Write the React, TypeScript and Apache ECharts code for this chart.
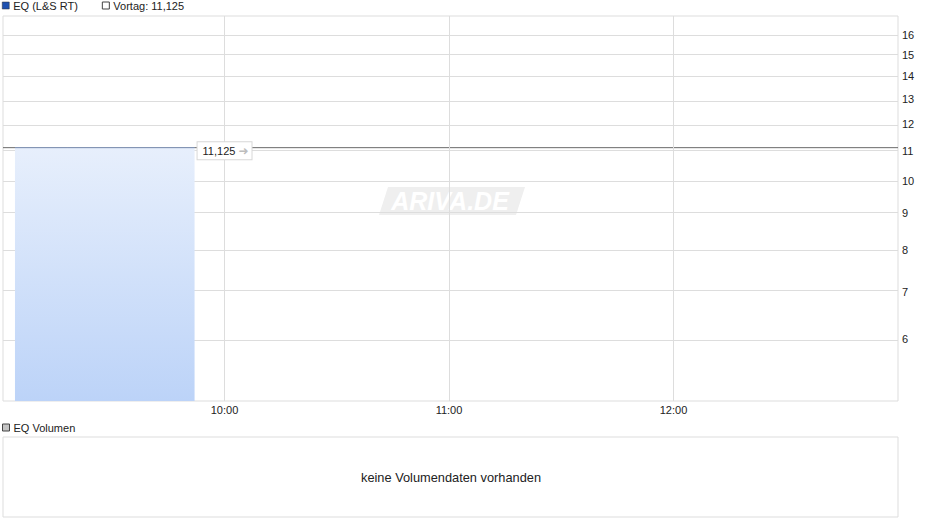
import React, { useEffect, useRef } from "react";
import * as echarts from "echarts";

// ---- data ----
const SERIES_NAME = "EQ (L&S RT)";
const PREV_NAME = "Vortag: 11,125";
const VOLUME_NAME = "EQ Volumen";
const PRICE_TIMES = ["09:04", "09:18", "09:33", "09:52"];
const PRICE_VALUES = [11.125, 11.125, 11.125, 11.125];
const PREV_CLOSE = 11.125;
const Y_TICKS = [6, 7, 8, 9, 10, 11, 12, 13, 14, 15, 16];
const X_TICKS = ["10:00", "11:00", "12:00"];
const X_RANGE = ["09:00:48", "13:00"];
const Y_RANGE = [4.92, 17];
const NO_VOLUME_TEXT = "keine Volumendaten vorhanden";
const WATERMARK = "ARIVA.DE";

const FONT = "'Liberation Sans', Arial, sans-serif";

const toMin = (t: string) => {
  const p = t.split(":").map(Number);
  return (p[0] - 9) * 60 + p[1] + (p[2] || 0) / 60;
};
const fmtMin = (m: number) => {
  const h = 9 + Math.floor(m / 60);
  const mm = Math.round(m % 60);
  return `${h}:${mm < 10 ? "0" : ""}${mm}`;
};
const de = (v: number) => String(v).replace(".", ",");

export default function App() {
  const ref = useRef<HTMLDivElement>(null);
  useEffect(() => {
    document.body.style.margin = "0";
    const chart = echarts.init(ref.current!, null, { renderer: "svg" });
    const xMin = toMin(X_RANGE[0]);
    const xMax = toMin(X_RANGE[1]);
    const priceData = PRICE_TIMES.map((t, i) => [toMin(t), Math.log(PRICE_VALUES[i])]);
    const lastPrice = PRICE_VALUES[PRICE_VALUES.length - 1];
    chart.setOption({
      animation: false,
      textStyle: { fontFamily: FONT },
      legend: [
        {
          left: 2,
          top: 0,
          padding: 0,
          itemWidth: 7,
          itemHeight: 7,
          itemGap: 24,
          textStyle: { fontSize: 11, color: "#222", fontFamily: FONT, padding: [0, 0, 0, -1] },
          selectedMode: false,
          data: [
            { name: SERIES_NAME, icon: "rect", itemStyle: { color: "#1f51b0", borderColor: "#333", borderWidth: 0.5 } },
            { name: PREV_NAME, icon: "rect", itemStyle: { color: "#fff", borderColor: "#444", borderWidth: 1 } },
          ],
        },
        {
          left: 2,
          top: 422,
          padding: 0,
          itemWidth: 7,
          itemHeight: 7,
          textStyle: { fontSize: 11, color: "#222", fontFamily: FONT, padding: [0, 0, 0, -1] },
          selectedMode: false,
          data: [{ name: VOLUME_NAME, icon: "rect", itemStyle: { color: "#c4c4c4", borderColor: "#444", borderWidth: 1 } }],
        },
      ],
      grid: [
        { left: 3, right: 42, top: 16, bottom: 125, show: true, borderColor: "#dddddd", borderWidth: 1 },
        { left: 3, right: 42, top: 437, bottom: 9, show: true, borderColor: "#dddddd", borderWidth: 1 },
      ],
      xAxis: [
        {
          type: "value",
          gridIndex: 0,
          min: xMin,
          max: xMax,
          axisLine: { show: false },
          axisTick: { show: false },
          splitLine: { show: false },
          axisLabel: {
            customValues: X_TICKS.map(toMin),
            formatter: (v: number) => fmtMin(v),
            color: "#222",
            fontSize: 11,
            margin: 3,
            fontFamily: FONT,
          },
        },
        { type: "value", gridIndex: 1, min: 0, max: 1, show: false },
      ],
      yAxis: [
        {
          type: "value",
          gridIndex: 0,
          position: "right",
          min: Math.log(Y_RANGE[0]),
          max: Math.log(Y_RANGE[1]),
          axisLine: { show: false },
          axisTick: { show: false },
          splitLine: { show: false },
          axisLabel: {
            customValues: Y_TICKS.map((v) => Math.log(v)),
            formatter: (v: number) => String(Math.round(Math.exp(v))),
            color: "#222",
            fontSize: 11,
            margin: 4,
            fontFamily: FONT,
          },
        },
        { type: "value", gridIndex: 1, min: 0, max: 1, show: false },
      ],
      graphic: [
        {
          type: "polygon",
          z: 0,
          silent: true,
          shape: { points: [[388, 187], [525, 187], [516, 215], [379, 215]] },
          style: { fill: "#efefef" },
        },
        {
          type: "text",
          z: 0,
          silent: true,
          x: 450,
          y: 201,
          style: {
            text: WATERMARK,
            fill: "#ffffff",
            font: `italic bold 25px ${FONT}`,
            align: "center",
            verticalAlign: "middle",
          },
        },
        {
          type: "text",
          x: 451,
          y: 477,
          style: {
            text: NO_VOLUME_TEXT,
            fill: "#222",
            font: `12.8px ${FONT}`,
            align: "center",
            verticalAlign: "middle",
          },
        },
      ],
      series: [
        {
          type: "line",
          name: "grid",
          data: [],
          z: 1,
          silent: true,
          markLine: {
            silent: true,
            symbol: "none",
            label: { show: false },
            lineStyle: { color: "#dddddd", width: 1, type: "solid" },
            data: [
              ...Y_TICKS.map((v) => ({ yAxis: Math.log(v) })),
              ...X_TICKS.map((t) => ({ xAxis: toMin(t) })),
            ],
          },
        },
        {
          type: "line",
          name: PREV_NAME,
          z: 4,
          data: [
            [xMin, Math.log(PREV_CLOSE)],
            [xMax, Math.log(PREV_CLOSE)],
          ],
          showSymbol: false,
          symbol: "none",
          lineStyle: { color: "#6a6a6a", width: 1 },
        },
        {
          type: "line",
          name: SERIES_NAME,
          z: 5,
          data: priceData,
          showSymbol: false,
          symbol: "none",
          lineStyle: { color: "#8194b8", width: 1 },
          areaStyle: {
            origin: "start",
            opacity: 1,
            color: new echarts.graphic.LinearGradient(0, 0, 0, 1, [
              { offset: 0, color: "#e7effc" },
              { offset: 1, color: "#bcd3f8" },
            ]),
          },
          endLabel: {
            show: true,
            distance: 3,
            offset: [0, 3],
            formatter: `${de(lastPrice)} {a|➜}`,
            color: "#222",
            fontSize: 11,
            fontFamily: FONT,
            backgroundColor: "#fff",
            borderColor: "#d8d8d8",
            borderWidth: 1,
            padding: [3, 3, 2, 5],
            rich: { a: { color: "#bdbdbd", fontSize: 12, fontFamily: "DejaVu Sans" } },
          },
        },
        {
          type: "bar",
          name: VOLUME_NAME,
          xAxisIndex: 1,
          yAxisIndex: 1,
          data: [],
        },
      ],
    });
    return () => chart.dispose();
  }, []);
  return <div ref={ref} style={{ width: 940, height: 526 }} />;
}
